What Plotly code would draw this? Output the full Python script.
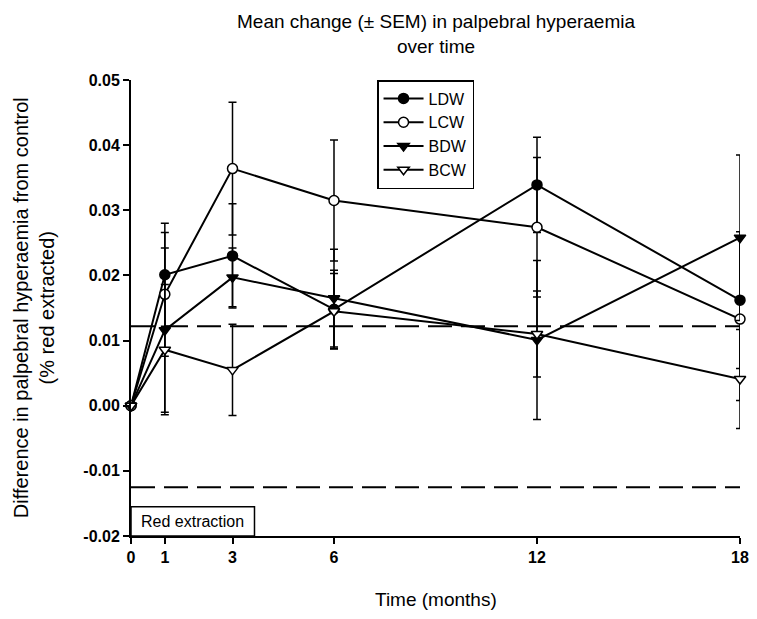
import plotly.graph_objects as go

months = [0, 1, 3, 6, 12, 18]
tick_labels = ["0", "1", "3", "6", "12", "18"]

ldw = [0.0, 0.0201, 0.0230, 0.0148, 0.0339, 0.0162]
ldw_sem = [0.0, 0.0079, 0.0080, 0.0060, 0.0073, 0.0105]
lcw = [0.0, 0.0171, 0.0364, 0.0315, 0.0274, 0.0133]
lcw_sem = [0.0, 0.0095, 0.0102, 0.0093, 0.0107, 0.0125]
bdw = [0.0, 0.0116, 0.0197, 0.0165, 0.0101, 0.0258]
bdw_sem = [0.0, 0.0126, 0.0045, 0.0075, 0.0122, 0.0127]
bcw = [0.0, 0.0086, 0.0055, 0.0145, 0.0110, 0.0041]
bcw_sem = [0.0, 0.0100, 0.0070, 0.0058, 0.0066, 0.0076]

upper_limit = 0.0122
lower_limit = -0.0125

series = [
    ("LDW", ldw, ldw_sem, "circle", "black"),
    ("LCW", lcw, lcw_sem, "circle", "white"),
    ("BDW", bdw, bdw_sem, "triangle-down", "black"),
    ("BCW", bcw, bcw_sem, "triangle-down", "white"),
]

FONT = "Liberation Sans"

fig = go.Figure()

for name, vals, sem, sym, fill in series:
    fig.add_trace(go.Scatter(
        x=months, y=vals, name=name, mode="lines+markers",
        line=dict(color="black", width=2),
        marker=dict(symbol=sym, size=10, color=fill, line=dict(color="black", width=1.5)),
        error_y=dict(type="data", array=sem, visible=True, color="black", thickness=1.5, width=4),
        cliponaxis=False,
    ))

for yv in [upper_limit, lower_limit]:
    fig.add_shape(type="line", xref="x", yref="y", x0=0, x1=18, y0=yv, y1=yv,
                  line=dict(color="black", width=2, dash="24px,9px"), layer="below")

fig.add_shape(type="rect", xref="x", yref="y", x0=0, x1=3.65, y0=-0.02, y1=-0.0155,
              line=dict(color="black", width=1.5), fillcolor="white", layer="below")
fig.add_annotation(x=1.82, y=-0.0178, xref="x", yref="y", text="Red extraction",
                   showarrow=False, font=dict(family=FONT, size=16, color="black"))

# y-axis title
fig.add_annotation(x=-0.159, y=0.5, xref="paper", yref="paper", xanchor="center", yanchor="middle",
                   text="Difference in palpebral hyperaemia from control<br>(% red extracted)",
                   textangle=-90, showarrow=False,
                   font=dict(family=FONT, size=20, color="black"))
# x-axis title
fig.add_annotation(x=0.5, y=-0.14, xref="paper", yref="paper", xanchor="center", yanchor="middle",
                   text="Time (months)", showarrow=False,
                   font=dict(family=FONT, size=19, color="black"))
# chart title
fig.add_annotation(x=0.5, y=1.156, xref="paper", yref="paper", xanchor="center", yanchor="top",
                   text="Mean change (± SEM) in palpebral hyperaemia<br>over time", showarrow=False,
                   font=dict(family=FONT, size=19, color="black"))

fig.update_layout(
    width=741, height=603,
    margin=dict(l=123, r=9, t=72, b=75),
    paper_bgcolor="white", plot_bgcolor="white",
    font=dict(family=FONT, color="black"),
    showlegend=True,
    legend=dict(x=0.404, y=1.0, xanchor="left", yanchor="top",
                bordercolor="black", borderwidth=1.5, bgcolor="white",
                font=dict(family=FONT, size=16, color="black"),
                tracegroupgap=0, itemwidth=40),
    xaxis=dict(range=[0, 18], tickvals=months, ticktext=tick_labels,
               showline=True, linecolor="black", linewidth=2,
               ticks="outside", ticklen=6, tickwidth=2, tickcolor="black",
               showgrid=False, zeroline=False, automargin=False,
               ticklabeloverflow="allow",
               tickfont=dict(family=FONT, size=16, color="black", weight="bold")),
    yaxis=dict(range=[-0.02, 0.05], tickvals=[-0.02, -0.01, 0.0, 0.01, 0.02, 0.03, 0.04, 0.05],
               ticktext=["-0.02", "-0.01", "0.00", "0.01", "0.02", "0.03", "0.04", "0.05"],
               showline=True, linecolor="black", linewidth=2,
               ticks="outside", ticklen=6, tickwidth=2, tickcolor="black",
               showgrid=False, zeroline=False, automargin=False,
               tickfont=dict(family=FONT, size=16, color="black", weight="bold")),
)

fig.write_html("out.html")
